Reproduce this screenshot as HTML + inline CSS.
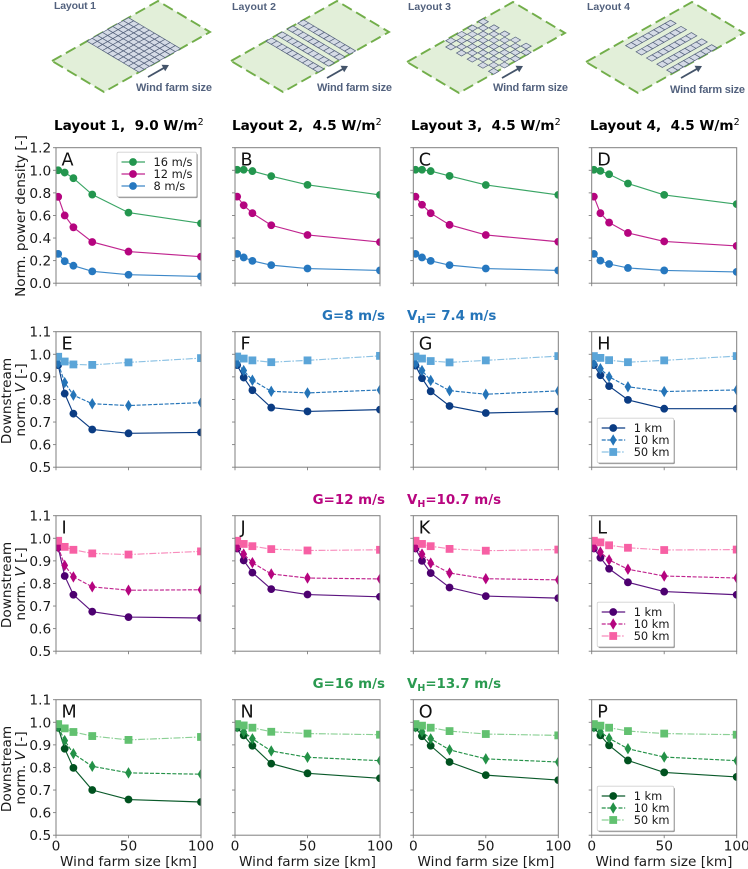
<!DOCTYPE html>
<html lang="en">
<head>
<meta charset="utf-8">
<title>Wind farm layouts: power density and downstream velocity</title>
<style>
  html, body { margin: 0; padding: 0; background: #fff; }
  body { width: 748px; height: 869px; overflow: hidden; }
  svg { display: block; font-family: "DejaVu Sans", "Liberation Sans", sans-serif; filter: blur(0.3px); }
  text { white-space: pre; fill: #1a1a1a; }
  .tick { font-size: 13.7px; }
  .axis-title { font-size: 13.6px; }
  .letter { font-size: 17.6px; fill: #111; }
  .legend-label { font-size: 11.4px; }
  .col-title { font-size: 13.6px; font-weight: bold; fill: #000; }
  .sec { font-size: 13.4px; font-weight: bold; }
  .diagram-text { font-family: "Liberation Sans", sans-serif; font-weight: bold; fill: #53627e; }
</style>
</head>
<body>
<svg id="figure" xmlns="http://www.w3.org/2000/svg" width="748" height="869" viewBox="0 0 748 869">
  <defs id="clip-defs"></defs>
  <g id="diagrams"></g>

  <text class="diagram-text" x="54" y="9" font-size="10.5" textLength="42">Layout 1</text>
  <text class="diagram-text" x="232" y="10" font-size="10.5" textLength="44">Layout 2</text>
  <text class="diagram-text" x="408" y="10" font-size="10.5" textLength="43">Layout 3</text>
  <text class="diagram-text" x="587" y="10" font-size="10.5" textLength="43">Layout 4</text>
  <text class="diagram-text" x="136" y="91" font-size="11" textLength="76">Wind farm size</text>
  <text class="diagram-text" x="317" y="91" font-size="11" textLength="75">Wind farm size</text>
  <text class="diagram-text" x="493" y="91" font-size="11" textLength="75">Wind farm size</text>
  <text class="diagram-text" x="670" y="93" font-size="11" textLength="75">Wind farm size</text>

  <text class="col-title" x="54" y="130">Layout 1,  9.0 W/m<tspan dy="-5" font-size="9.5" font-weight="normal">2</tspan></text>
  <text class="col-title" x="232" y="130">Layout 2,  4.5 W/m<tspan dy="-5" font-size="9.5" font-weight="normal">2</tspan></text>
  <text class="col-title" x="411" y="130">Layout 3,  4.5 W/m<tspan dy="-5" font-size="9.5" font-weight="normal">2</tspan></text>
  <text class="col-title" x="590" y="130">Layout 4,  4.5 W/m<tspan dy="-5" font-size="9.5" font-weight="normal">2</tspan></text>

  <text class="sec" x="385" y="320" text-anchor="end" style="fill:#2474b8">G=8 m/s</text>
  <text class="sec" x="407" y="320" style="fill:#2474b8">V<tspan dy="3" font-size="9.5">H</tspan><tspan dy="-3">= 7.4 m/s</tspan></text>
  <text class="sec" x="385" y="504" text-anchor="end" style="fill:#b8057f">G=12 m/s</text>
  <text class="sec" x="407" y="504" style="fill:#b8057f">V<tspan dy="3" font-size="9.5">H</tspan><tspan dy="-3">=10.7 m/s</tspan></text>
  <text class="sec" x="385" y="688" text-anchor="end" style="fill:#2a9a50">G=16 m/s</text>
  <text class="sec" x="407" y="688" style="fill:#2a9a50">V<tspan dy="3" font-size="9.5">H</tspan><tspan dy="-3">=13.7 m/s</tspan></text>

  <text class="axis-title" transform="translate(25,216) rotate(-90)" text-anchor="middle">Norm. power density [-]</text>
  <text class="axis-title" transform="translate(11,401) rotate(-90)" text-anchor="middle">Downstream</text>
  <text class="axis-title" transform="translate(25,400) rotate(-90)" text-anchor="middle">norm. <tspan font-style="italic">V</tspan> [-]</text>
  <text class="axis-title" transform="translate(11,585) rotate(-90)" text-anchor="middle">Downstream</text>
  <text class="axis-title" transform="translate(25,584) rotate(-90)" text-anchor="middle">norm. <tspan font-style="italic">V</tspan> [-]</text>
  <text class="axis-title" transform="translate(11,769) rotate(-90)" text-anchor="middle">Downstream</text>
  <text class="axis-title" transform="translate(25,768) rotate(-90)" text-anchor="middle">norm. <tspan font-style="italic">V</tspan> [-]</text>

  <text class="axis-title" x="128.5" y="866" text-anchor="middle">Wind farm size [km]</text>
  <text class="axis-title" x="307.5" y="866" text-anchor="middle">Wind farm size [km]</text>
  <text class="axis-title" x="486" y="866" text-anchor="middle">Wind farm size [km]</text>
  <text class="axis-title" x="664" y="866" text-anchor="middle">Wind farm size [km]</text>

  <g id="panels"></g>
</svg>

<script>
// ---------- chart data ----------
const windFarmSizes = [1.5, 6, 12, 25, 50, 100];
const xTickValues = [0, 50, 100];
const xTickLabels = ['0', '50', '100'];
const powerTickValues = [0, 0.2, 0.4, 0.6, 0.8, 1.0, 1.2];
const powerTickLabels = ['0.0', '0.2', '0.4', '0.6', '0.8', '1.0', '1.2'];
const speedTickValues = [0.5, 0.6, 0.7, 0.8, 0.9, 1.0, 1.1];
const speedTickLabels = ['0.5', '0.6', '0.7', '0.8', '0.9', '1.0', '1.1'];
const panelLetters = ['A','B','C','D','E','F','G','H','I','J','K','L','M','N','O','P'];
const powerSeriesNames = ['16 m/s', '12 m/s', '8 m/s'];
const speedSeriesNames = ['1 km', '10 km', '50 km'];

const a16 = [1.0, 0.98, 0.93, 0.785, 0.625, 0.53];
const a12 = [0.765, 0.6, 0.495, 0.365, 0.28, 0.235];
const a8  = [0.26, 0.195, 0.155, 0.105, 0.075, 0.06];
const b16 = [1.005, 1.005, 0.993, 0.948, 0.871, 0.782];
const b12 = [0.767, 0.69, 0.62, 0.513, 0.427, 0.364];
const b8  = [0.26, 0.228, 0.198, 0.16, 0.13, 0.113];
const c16 = [1.005, 1.005, 0.993, 0.95, 0.87, 0.782];
const c12 = [0.767, 0.695, 0.62, 0.517, 0.427, 0.367];
const c8  = [0.26, 0.228, 0.198, 0.16, 0.13, 0.113];
const d16 = [1.005, 0.995, 0.965, 0.883, 0.782, 0.70];
const d12 = [0.767, 0.62, 0.537, 0.445, 0.37, 0.33];
const d8  = [0.26, 0.2, 0.17, 0.135, 0.113, 0.1];

const e1  = [0.952, 0.826, 0.737, 0.667, 0.65, 0.654];
const e10 = [0.96, 0.875, 0.819, 0.781, 0.773, 0.786];
const e50 = [0.989, 0.968, 0.955, 0.953, 0.964, 0.983];
const f1  = [0.952, 0.897, 0.841, 0.764, 0.747, 0.755];
const f10 = [0.96, 0.928, 0.885, 0.836, 0.829, 0.842];
const f50 = [0.99, 0.981, 0.973, 0.965, 0.973, 0.993];
const g1  = [0.95, 0.894, 0.836, 0.771, 0.74, 0.747];
const g10 = [0.96, 0.928, 0.884, 0.839, 0.823, 0.838];
const g50 = [0.99, 0.981, 0.97, 0.964, 0.973, 0.992];
const h1  = [0.952, 0.907, 0.859, 0.798, 0.759, 0.759];
const h10 = [0.96, 0.936, 0.9, 0.856, 0.835, 0.842];
const h50 = [0.992, 0.984, 0.974, 0.965, 0.973, 0.992];

const i1  = [0.959, 0.833, 0.75, 0.675, 0.651, 0.647];
const i10 = [0.962, 0.88, 0.829, 0.785, 0.77, 0.772];
const i50 = [0.989, 0.962, 0.949, 0.933, 0.928, 0.942];
const j1  = [0.955, 0.902, 0.848, 0.775, 0.751, 0.741];
const j10 = [0.962, 0.93, 0.892, 0.842, 0.824, 0.82];
const j50 = [0.989, 0.975, 0.965, 0.952, 0.946, 0.949];
const k1  = [0.955, 0.9, 0.846, 0.782, 0.744, 0.735];
const k10 = [0.962, 0.93, 0.89, 0.846, 0.821, 0.816];
const k50 = [0.989, 0.975, 0.965, 0.953, 0.945, 0.95];
const l1  = [0.955, 0.914, 0.865, 0.805, 0.764, 0.75];
const l10 = [0.962, 0.939, 0.904, 0.863, 0.833, 0.824];
const l50 = [0.989, 0.982, 0.969, 0.958, 0.948, 0.95];

const m1  = [0.976, 0.883, 0.798, 0.70, 0.658, 0.647];
const m10 = [0.98, 0.919, 0.861, 0.805, 0.776, 0.77];
const m50 = [0.992, 0.973, 0.957, 0.939, 0.922, 0.935];
const n1  = [0.976, 0.942, 0.896, 0.817, 0.774, 0.752];
const n10 = [0.98, 0.958, 0.927, 0.873, 0.845, 0.83];
const n50 = [0.992, 0.986, 0.976, 0.958, 0.95, 0.945];
const o1  = [0.976, 0.938, 0.896, 0.824, 0.766, 0.744];
const o10 = [0.98, 0.958, 0.927, 0.878, 0.838, 0.824];
const o50 = [0.992, 0.985, 0.976, 0.961, 0.948, 0.942];
const p1  = [0.976, 0.942, 0.898, 0.831, 0.778, 0.758];
const p10 = [0.98, 0.958, 0.929, 0.883, 0.846, 0.83];
const p50 = [0.992, 0.985, 0.976, 0.961, 0.95, 0.945];

const panelSeries = [
  [a16, a12, a8], [b16, b12, b8], [c16, c12, c8], [d16, d12, d8],
  [e1, e10, e50], [f1, f10, f50], [g1, g10, g50], [h1, h10, h50],
  [i1, i10, i50], [j1, j10, j50], [k1, k10, k50], [l1, l10, l50],
  [m1, m10, m50], [n1, n10, n50], [o1, o10, o50], [p1, p10, p50]
];

// ---------- layout and style (not data) ----------
const NS = 'http://www.w3.org/2000/svg';
const colLeft = [56, 235, 413.3, 591.7];
const rowTop = [147.7, 331.7, 515.7, 699.7];
const plotW = 145, plotH = 135.5;
const xDomain = [0, 100];
const powerDomain = [0, 1.2];
const speedDomain = [0.5, 1.1];
const rowStyles = [
  [{c:'#23964e', l:'#3aa565', m:'circle'}, {c:'#b5047f', l:'#c0258f', m:'circle'}, {c:'#2678c0', l:'#3d88c8', m:'circle'}],
  [{c:'#0b3c83', l:'#0b3c83', m:'circle'}, {c:'#2474b8', l:'#2474b8', m:'diamond', d:'4 1.6'}, {c:'#5ba5d8', l:'#8cc2e4', m:'square', d:'7 1.6 1.6 1.6'}],
  [{c:'#4d0070', l:'#5c1580', m:'circle'}, {c:'#b5047f', l:'#c0258f', m:'diamond', d:'4 1.6'}, {c:'#f760a4', l:'#f88cbc', m:'square', d:'7 1.6 1.6 1.6'}],
  [{c:'#00521f', l:'#0a5a2a', m:'circle'}, {c:'#239147', l:'#239147', m:'diamond', d:'4 1.6'}, {c:'#62c170', l:'#8bd095', m:'square', d:'7 1.6 1.6 1.6'}]
];

function mk(tag, attrs, parent) {
  const el = document.createElementNS(NS, tag);
  for (const k in attrs) el.setAttribute(k, attrs[k]);
  if (parent) parent.appendChild(el);
  return el;
}
function linearScale(domain, a, b) {
  return v => a + (v - domain[0]) / (domain[1] - domain[0]) * (b - a);
}
function drawMarker(parent, kind, x, y, color, name) {
  let el;
  if (kind === 'circle') {
    el = mk('circle', {cx: x, cy: y, r: 3.9, fill: color}, parent);
  } else if (kind === 'square') {
    el = mk('rect', {x: x - 3.9, y: y - 3.9, width: 7.8, height: 7.8, fill: color}, parent);
  } else {
    const dPts = x + ',' + (y - 5.7) + ' ' + (x + 3.4) + ',' + y + ' ' + x + ',' + (y + 5.7) + ' ' + (x - 3.4) + ',' + y;
    el = mk('polygon', {points: dPts, fill: color}, parent);
  }
  
  
  return el;
}

const panelsRoot = document.getElementById('panels');
const clipDefs = document.getElementById('clip-defs');

panelLetters.forEach(function (letter, index) {
  const row = Math.floor(index / 4), col = index % 4;
  const left = colLeft[col], top = rowTop[row];
  const isPower = row === 0;
  const xScale = linearScale(xDomain, left, left + plotW);
  const yScale = linearScale(isPower ? powerDomain : speedDomain, top + plotH, top);
  const yTicks = isPower ? powerTickValues : speedTickValues;
  const yLabels = isPower ? powerTickLabels : speedTickLabels;
  const styles = rowStyles[row];

  const g = mk('g', {}, panelsRoot);
  
  

  const clip = mk('clipPath', {id: 'clip-' + letter}, clipDefs);
  mk('rect', {x: left, y: top, width: plotW, height: plotH}, clip);

  // ticks and labels
  yTicks.forEach(function (t, i) {
    const y = yScale(t);
    const tick = mk('line', {x1: left - 3, x2: left, y1: y, y2: y, stroke: '#7f7f7f', 'stroke-width': 0.9}, g);
    
    
    if (col === 0) {
      const label = mk('text', {x: left - 4.8, y: y + 5, 'text-anchor': 'end', class: 'tick'}, g);
      label.textContent = yLabels[i];
      
      
    }
  });
  xTickValues.forEach(function (t, i) {
    const x = xScale(t);
    const tick = mk('line', {x1: x, x2: x, y1: top + plotH, y2: top + plotH + 3, stroke: '#7f7f7f', 'stroke-width': 0.9}, g);
    
    
    if (row === 3) {
      const label = mk('text', {x: x, y: top + plotH + 15.5, 'text-anchor': 'middle', class: 'tick'}, g);
      label.textContent = xTickLabels[i];
      
      
    }
  });

  // series
  const plot = mk('g', {'clip-path': 'url(#clip-' + letter + ')'}, g);
  
  
  panelSeries[index].forEach(function (values, s) {
    const st = styles[s];
    const sg = mk('g', {}, plot);
    
    
    const pts = values.map(function (v, i) { return xScale(windFarmSizes[i]) + ',' + yScale(v); }).join(' ');
    const attrs = {points: pts, fill: 'none', stroke: st.l, 'stroke-width': 1.15};
    if (st.d) attrs['stroke-dasharray'] = st.d;
    const line = mk('polyline', attrs, sg);
    
    
    values.forEach(function (v, i) {
      drawMarker(sg, st.m, xScale(windFarmSizes[i]), yScale(v), st.c, 'data-point');
    });
  });

  // frame
  const frame = mk('rect', {x: left, y: top, width: plotW, height: plotH, fill: 'none', stroke: '#7f7f7f', 'stroke-width': 1}, g);
  
  

  // panel letter
  const lt = mk('text', {x: left + 5.5, y: top + 17.6, class: 'letter'}, g);
  lt.textContent = letter;
  
  

  // legends
  if (index === 0 || (col === 3 && row > 0)) {
    const names = isPower ? powerSeriesNames : speedSeriesNames;
    const lx = isPower ? left + 61 : left + 5.5;
    const ly = isPower ? top + 4.5 : top + 86.5;
    const lw = isPower ? 79.5 : 76.5;
    const lh = 44.5;
    const lg = mk('g', {}, g);
    
    
    mk('rect', {x: lx + 1.2, y: ly + 1.4, width: lw, height: lh, rx: 1.5, fill: '#9a9a9a'}, lg);
    mk('rect', {x: lx, y: ly, width: lw, height: lh, rx: 1.5, fill: '#fff', stroke: '#d0d0d0', 'stroke-width': 0.8}, lg);
    names.forEach(function (name, s) {
      const st = styles[s];
      const y = ly + 9.8 + s * 12;
      const attrs = {x1: lx + 4.5, x2: lx + 28, y1: y, y2: y, stroke: st.l, 'stroke-width': 1.15};
      if (st.d) attrs['stroke-dasharray'] = st.d;
      const entry = mk('g', {}, lg);
      
      
      mk('line', attrs, entry);
      drawMarker(entry, st.m, lx + 16, y, st.c, 'legend-marker');
      const t = mk('text', {x: lx + 36.5, y: y + 4.1, class: 'legend-label'}, entry);
      t.textContent = name;
      
      
    });
  }
});

// ---------- isometric layout diagrams ----------
const diagramsRoot = document.getElementById('diagrams');
const origins = [[52, 61], [231, 61], [407, 62], [586, 62]];
const arrows = [[148, 77, 169, 65], [327, 78, 348, 66], [502, 78, 523, 66], [681, 78, 702, 66]];
const uAxis = [106, -60], vAxis = [52, 31];

function isoPoint(o, u, v) {
  return [o[0] + u * uAxis[0] + v * vAxis[0], o[1] + u * uAxis[1] + v * vAxis[1]];
}
function isoPoly(parent, o, u0, u1, v0, v1, attrs) {
  const p = [isoPoint(o, u0, v0), isoPoint(o, u1, v0), isoPoint(o, u1, v1), isoPoint(o, u0, v1)];
  attrs.points = p.map(function (q) { return q.join(','); }).join(' ');
  return mk('polygon', attrs, parent);
}
function cell(parent, o, u0, u1, v0, v1) {
  const el = isoPoly(parent, o, u0, u1, v0, v1, {fill: '#d5dbe6', stroke: '#55627c', 'stroke-width': 0.7});
  
  
}
origins.forEach(function (o, n) {
  const g = mk('g', {}, diagramsRoot);
  
  
  const site = isoPoly(g, o, 0, 1, 0, 1, {fill: '#e2efd9', stroke: '#72ae4a', 'stroke-width': 1.9, 'stroke-dasharray': '11 5'});
  
  

  if (n === 0) {
    for (let i = 0; i < 8; i++) for (let j = 0; j < 10; j++) {
      cell(g, o, 0.33 + i * 0.049, 0.33 + (i + 1) * 0.049, j / 10, (j + 1) / 10);
    }
  } else if (n === 1) {
    [0.33, 0.43, 0.53, 0.63].forEach(function (u) {
      for (let j = 0; j < 10; j++) cell(g, o, u, u + 0.055, j / 10, (j + 1) / 10);
    });
  } else if (n === 2) {
    // checkerboard of rhombus cells on a half-step lattice
    const top = [o[0] + 76.3, o[1] - 40.3];
    for (let i = 0; i <= 7; i++) for (let j = 0; j <= 9; j++) {
      if ((i + j) % 2 === 0) {
        const cx = top[0] - 5.4 * i + 5.35 * j;
        const cy = top[1] + 3.17 * i + 3.05 * j;
        const rh = mk('polygon', {points: (cx - 5.1) + ',' + cy + ' ' + cx + ',' + (cy - 3) + ' ' + (cx + 5.1) + ',' + cy + ' ' + cx + ',' + (cy + 3), fill: '#d5dbe6', stroke: '#55627c', 'stroke-width': 0.7}, g);
        
        
      }
    }
  } else {
    [0.10, 0.30, 0.50, 0.70, 0.89].forEach(function (v) {
      for (let i = 0; i < 8; i++) cell(g, o, 0.325 + i * 0.053, 0.325 + (i + 1) * 0.053, v, v + 0.105);
    });
  }

  const a = arrows[n];
  const shaft = mk('line', {x1: a[0], y1: a[1], x2: a[2] - 4, y2: a[3] + 2.3, stroke: '#44546a', 'stroke-width': 1.8}, g);
  
  
  const head = mk('polygon', {points: a[2] + ',' + a[3] + ' ' + (a[2] - 7.5) + ',' + (a[3] - 0.2) + ' ' + (a[2] - 3.8) + ',' + (a[3] + 6.2), fill: '#44546a'}, g);
  
  
});
</script>
</body>
</html>
